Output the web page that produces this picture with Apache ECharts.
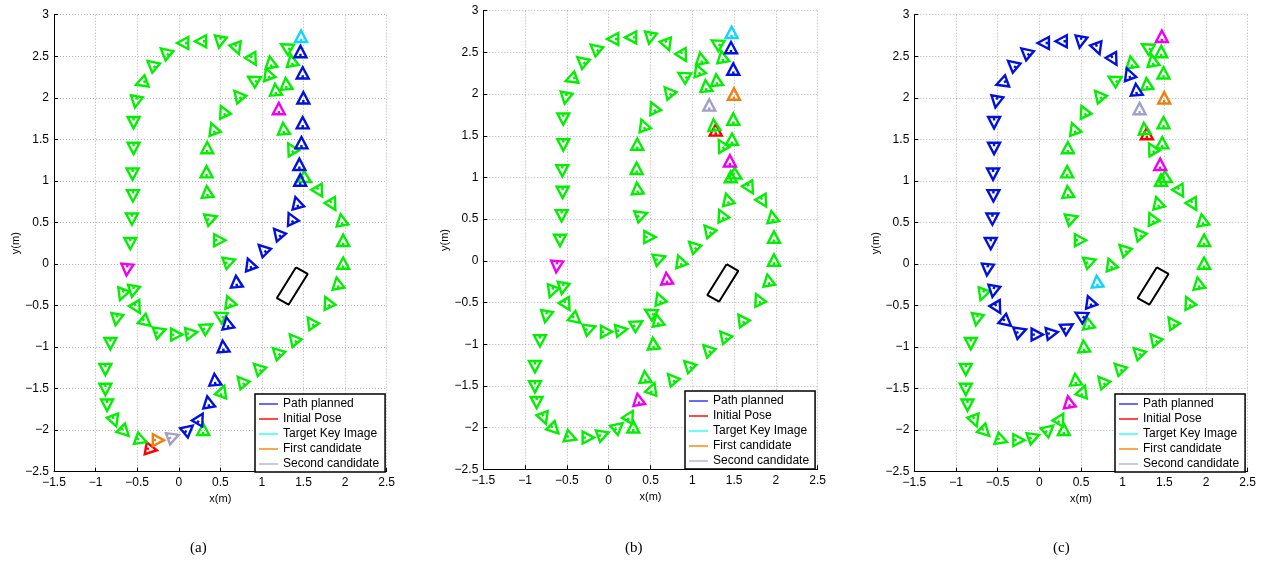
<!DOCTYPE html>
<html><head><meta charset="utf-8">
<script src="https://cdn.jsdelivr.net/npm/echarts@6/dist/echarts.min.js"></script>
<style>html,body{margin:0;padding:0;background:#fff}#c{width:1268px;height:571px}</style>
</head><body><div id="c"></div>
<script>
// Key-image map (shared by the three panels): position (m) and heading (deg, apex direction)
const keyX = [1.47,1.463,1.49,1.498,1.49,1.475,1.45,1.46,1.42,1.35,
  1.19,1.01,0.853,0.613,0.693,0.605,0.494,0.585,0.533,0.434,
  0.354,0.525,0.753,0.952,1.18,1.379,1.59,1.79,1.909,1.977,
  1.977,1.957,1.849,1.69,1.53,0.254,0.294,0.115,-0.065,-0.244,
  -0.45,-0.65,-0.774,-0.862,-0.882,-0.882,-0.822,-0.75,-0.683,-0.551,
  -0.503,-0.392,-0.224,-0.025,0.155,0.342,-0.623,-0.583,-0.563,-0.551,
  -0.555,-0.543,-0.543,-0.515,-0.451,-0.324,-0.164,0.047,0.262,0.494,
  0.70,0.892,0.494,0.394,0.342,0.334,0.342,0.414,0.534,0.713,
  0.892,1.072,1.163,1.29,1.203,1.259,1.35,1.359,1.29,1.104];
const keyY = [2.74,2.557,2.30,2.00,1.70,1.46,1.20,1.01,0.74,0.55,
  0.37,0.18,0.0,0.03,-0.21,-0.45,-0.62,-0.71,-0.99,-1.39,
  -1.66,-1.53,-1.41,-1.25,-1.06,-0.90,-0.70,-0.46,-0.23,0.01,
  0.285,0.53,0.71,0.87,1.02,-1.86,-1.99,-1.99,-2.08,-2.12,
  -2.12,-2.02,-1.89,-1.70,-1.51,-1.27,-0.96,-0.67,-0.37,-0.33,
  -0.53,-0.70,-0.81,-0.85,-0.83,-0.76,-0.07,0.245,0.54,0.82,
  1.08,1.39,1.70,1.95,2.18,2.40,2.55,2.66,2.68,2.67,
  2.59,2.457,0.285,0.55,0.87,1.11,1.40,1.63,1.84,2.03,
  2.22,2.29,2.10,2.17,1.87,1.63,1.39,2.45,2.61,2.43];
const keyHeading = [90,90,90,90,90,90,90,90,105,115,
  130,135,110,20,95,110,150,100,95,95,
  100,70,130,135,135,130,125,115,100,90,
  90,100,300,300,330,60,90,40,20,0,
  340,315,290,270,270,270,270,260,250,260,
  300,320,20,0,10,30,265,270,270,270,
  270,270,270,260,200,140,140,180,180,260,
  290,300,0,20,95,90,90,110,115,130,
  150,110,95,95,90,95,120,100,150,100];

// Per-panel highlighted key images (indices into the map)
const pathIdx = [
  [1,2,3,4,5,6,7,8,9,10,11,12,14,17,18,19,20,35,37],
  [1,2],
  [82,81,71,70,69,68,67,66,65,64,63,62,61,60,59,58,57,56,49,50,51,52,53,54,55,16,15]
];
const targetIdx = [[0],[0],[14]];
const firstIdx = [[39],[3],[3]];
const secondIdx = [[38],[84],[84]];
const otherIdx = [[84,56],[6,14,20,56],[0,6,20]];
// Initial pose per panel
const initX = [-0.33, 1.28, 1.29];
const initY = [-2.23, 1.57, 1.57];
const initHeading = [-10, 90, 90];
// Obstacle outline
const obstacleX = [1.41, 1.55, 1.32, 1.18, 1.41];
const obstacleY = [-0.04, -0.12, -0.49, -0.41, -0.04];
const captions = ['(a)','(b)','(c)'];
const legendNames = ['Path planned','Initial Pose','Target Key Image','First candidate','Second candidate'];
const legendColors = ['#6a6aff','#ff4a4a','#66ffff','#ffa64d','#c6cce0'];

const FONT = '"Liberation Sans", Arial, Helvetica, sans-serif';
const TRI = 'path://M0,-10L9,7L-9,7Z M0,7L0,2';
const minus = v => String(v).replace('-', '\u2212');

const grids = [
  {left:54, top:14.7, width:332.7, height:457},
  {left:483.3, top:10.7, width:334.4, height:458.6},
  {left:914.3, top:14.7, width:333.4, height:457}
];
const legendPos = [[255,394],[685,391],[1115,394]];
const captionX = [200, 635, 1063];

function pts(idxs){ return idxs.map(i => ({value:[keyX[i], keyY[i]], symbolRotate: keyHeading[i]-90})); }
function triSeries(name, gi, data, color, z){
  return {name, type:'scatter', xAxisIndex:gi, yAxisIndex:gi, data, symbol:TRI, symbolSize:12,
    symbolKeepAspect:true, silent:true, z,
    itemStyle:{color:'rgba(0,0,0,0)', borderColor:color, borderWidth:2.4, opacity:1},
    emphasis:{disabled:true}, animation:false};
}

const xAxes = [], yAxes = [], series = [], legends = [], graphics = [];
for (let g = 0; g < 3; g++) {
  xAxes.push({type:'value', gridIndex:g, min:-1.5, max:2.5, interval:0.5,
    axisLine:{show:true, onZero:false, lineStyle:{color:'#000', width:1}},
    axisTick:{show:true, inside:true, length:4, lineStyle:{color:'#000'}},
    axisLabel:{formatter:minus, color:'#000', fontSize:12, margin:5, fontFamily:FONT},
    splitLine:{show:true, lineStyle:{color:'#b0b0b0', type:[1,2], width:1}},
    name:'x(m)', nameLocation:'middle', nameGap:16,
    nameTextStyle:{fontSize:11, color:'#000', fontFamily:FONT}});
  yAxes.push({type:'value', gridIndex:g, min:-2.5, max:3, interval:0.5,
    axisLine:{show:true, onZero:false, lineStyle:{color:'#000', width:1}},
    axisTick:{show:true, inside:true, length:4, lineStyle:{color:'#000'}},
    axisLabel:{formatter:minus, color:'#000', fontSize:12, margin:5, fontFamily:FONT},
    splitLine:{show:true, lineStyle:{color:'#b0b0b0', type:[1,2], width:1}},
    name:'y(m)', nameLocation:'middle', nameGap:30,
    nameTextStyle:{fontSize:11, color:'#000', fontFamily:FONT}});

  const colored = new Set([...pathIdx[g], ...targetIdx[g], ...firstIdx[g], ...secondIdx[g], ...otherIdx[g]]);
  const greenIdx = keyX.map((_, i) => i).filter(i => !colored.has(i));

  series.push(triSeries('init'+g, g, [{value:[initX[g], initY[g]], symbolRotate:initHeading[g]-90}], '#ff0000', 2));
  series.push(triSeries('map'+g, g, pts(greenIdx), '#00f000', 3));
  series.push(triSeries('other'+g, g, pts(otherIdx[g]), '#f000f0', 4));
  series.push(triSeries('path'+g, g, pts(pathIdx[g]), '#0010dd', 5));
  series.push(triSeries('second'+g, g, pts(secondIdx[g]), '#a0a0c8', 6));
  series.push(triSeries('first'+g, g, pts(firstIdx[g]), '#f07f10', 6));
  series.push(triSeries('target'+g, g, pts(targetIdx[g]), '#10d4ff', 7));
  series.push({name:'obstacle'+g, type:'line', xAxisIndex:g, yAxisIndex:g,
    data: obstacleX.map((x, i) => [x, obstacleY[i]]), symbol:'none', silent:true, z:4,
    lineStyle:{color:'#000', width:2}, animation:false});

  legends.push({data:legendNames, orient:'vertical', left:legendPos[g][0], top:legendPos[g][1],
    icon:'rect', itemWidth:19, itemHeight:2, itemGap:3, padding:[4,6,2,4],
    backgroundColor:'#fff', borderColor:'#000', borderWidth:1.5, selectedMode:false,
    textStyle:{fontSize:12, color:'#000', fontFamily:FONT, lineHeight:12}, z:10});

  graphics.push({type:'text', left:captionX[g]-10, top:541,
    style:{text:captions[g], font:'15px "Liberation Serif", "Times New Roman", serif', fill:'#000'}});
}
legendNames.forEach((n, i) => series.push({name:n, type:'line', data:[], xAxisIndex:0, yAxisIndex:0,
  color:legendColors[i], itemStyle:{color:legendColors[i]}, lineStyle:{color:legendColors[i]}}));

const chart = echarts.init(document.getElementById('c'), null, {renderer:'canvas'});
chart.setOption({animation:false, backgroundColor:'#fff', grid:grids, xAxis:xAxes, yAxis:yAxes,
  series, legend:legends, graphic:graphics});
</script></body></html>
